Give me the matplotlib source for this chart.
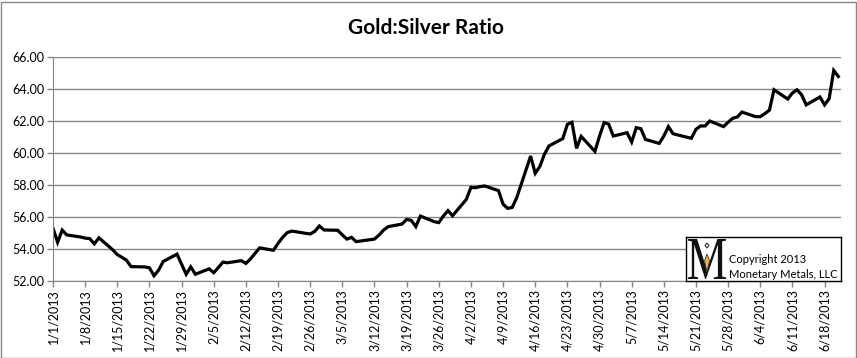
import numpy as np
import pandas as pd
from matplotlib import pyplot as plt
from matplotlib.patches import Rectangle, Polygon, PathPatch
from matplotlib.textpath import TextPath
from matplotlib.font_manager import FontProperties
from matplotlib.transforms import Affine2D

plt.rcParams['font.family'] = ['Lato', 'DejaVu Sans']

# Gold:Silver ratio, one value per weekday, 1/1/2013 - 6/21/2013
dates = pd.bdate_range('2013-01-01', '2013-06-21')
ratio = [
    55.30, 54.42, 55.18, 54.88,
    54.75, 54.68, 54.65, 54.32, 54.70,
    53.95, 53.65, 53.48, 53.30, 52.90,
    52.88, 52.82, 52.33, 52.68, 53.22,
    53.68, 53.05, 52.42, 52.88, 52.42,
    52.76, 52.52, 52.84, 53.18, 53.14,
    53.27, 53.10, 53.38, 53.73, 54.07,
    53.92, 54.35, 54.73, 55.02, 55.12,
    54.98, 54.94, 55.10, 55.44, 55.19,
    55.17, 54.88, 54.62, 54.73, 54.46,
    54.58, 54.62, 54.87, 55.19, 55.40,
    55.56, 55.85, 55.79, 55.40, 56.06,
    55.71, 55.65, 56.06, 56.40, 56.08,
    57.10, 57.85, 57.83, 57.90, 57.94,
    57.65, 56.80, 56.54, 56.60, 57.23,
    59.81, 58.73, 59.15, 59.92, 60.44,
    60.90, 61.79, 61.92, 60.29, 61.04,
    60.10, 61.05, 61.90, 61.80, 61.06,
    61.27, 60.69, 61.58, 61.52, 60.85,
    60.60, 61.06, 61.65, 61.21, 61.13,
    60.92, 61.48, 61.69, 61.69, 62.00,
    61.65, 61.92, 62.17, 62.25, 62.56,
    62.27, 62.27, 62.46, 62.68, 63.95,
    63.37, 63.75, 63.95, 63.64, 63.01,
    63.50, 63.01, 63.39, 65.16, 64.78,
]
tick_dates = pd.date_range('2013-01-01', '2013-06-18', freq='7D')
tick_labels = [f'{d.month}/{d.day}/{d.year}' for d in tick_dates]
y_ticks = np.arange(52, 66.1, 2)

W, H = 857, 358
fig = plt.figure(figsize=(W / 100, H / 100), dpi=100)

# chart area border
fig.patches.append(Rectangle((0.5 / W, 0.5 / H), 1 - 2 / W, 1 - 2 / H,
                             transform=fig.transFigure, fill=False,
                             edgecolor='#868686', linewidth=1))

ax = fig.add_axes([53 / W, 1 - 281 / H, 788 / W, 224 / H])
ax.plot(dates, ratio, color='black', linewidth=2.3, solid_joinstyle='miter')

ax.set_ylim(52, 66)
ax.set_yticks(y_ticks)
ax.set_yticklabels([f'{v:.2f}' for v in y_ticks], fontsize=9)
ax.set_xlim(pd.Timestamp('2013-01-01'), pd.Timestamp('2013-06-21 14:00'))
ax.set_xticks(tick_dates)
ax.set_xticklabels(tick_labels, rotation=90, fontsize=9)

ax.grid(axis='y', color='#868686', linewidth=1)
ax.set_axisbelow(True)
for s in ['top', 'right']:
    ax.spines[s].set_visible(False)
for s in ['left', 'bottom']:
    ax.spines[s].set_color('#868686')
ax.tick_params(axis='both', color='#868686', length=4, width=1, pad=2)

fig.text(0.497, 1 - 28 / H, 'Gold:Silver Ratio', ha='center', va='center',
         fontsize=15, fontweight='bold')

# logo box
lg = fig.add_axes([686 / W, 1 - 281 / H, 155 / W, 44 / H])
lg.set_xlim(0, 155)
lg.set_ylim(0, 44)
lg.set_xticks([])
lg.set_yticks([])
for s in lg.spines.values():
    s.set_color('black')
    s.set_linewidth(1)

# narrow, tall serif "M"
mp = TextPath((0, 0), 'M', size=10, prop=FontProperties(family='Liberation Serif'))
bb = mp.get_extents()
sx = 38 / bb.width
sy = 40 / bb.height
mp = Affine2D().translate(-bb.x0, -bb.y0).scale(sx, sy).translate(2, 2).transform_path(mp)
lg.add_patch(PathPatch(mp, facecolor='#111111', edgecolor='none'))
lg.add_patch(Polygon([[21, 27], [23.5, 20], [21, 9], [18.5, 20]],
                     closed=True, facecolor='#F5B041', edgecolor='#333333', linewidth=0.6))
lg.add_patch(Polygon([[21, 38], [23, 35.5], [21, 33], [19, 35.5]],
                     closed=True, facecolor='white', edgecolor='#333333', linewidth=0.8))
lg.text(43, 16, 'Copyright 2013', ha='left', va='bottom', fontsize=8)
lg.text(43, 1.5, 'Monetary Metals, LLC', ha='left', va='bottom', fontsize=8)

fig.savefig('out.png', dpi=100)
